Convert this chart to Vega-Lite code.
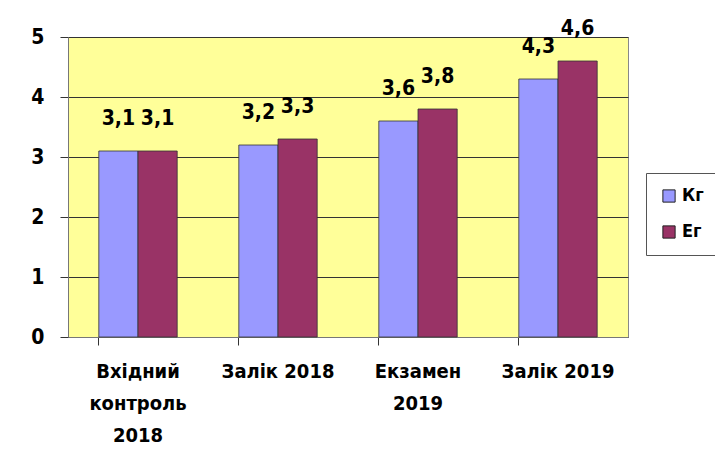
{
  "$schema": "https://vega.github.io/schema/vega-lite/v6.json",
  "autosize": {"type": "none"},
  "width": 560,
  "height": 300,
  "padding": {"left": 68, "top": 37, "right": 87, "bottom": 113},
  "background": "white",
  "data": {"values": [
    {"cat": "Вхідний контроль 2018", "series": "Кг", "value": 3.1},
    {"cat": "Вхідний контроль 2018", "series": "Ег", "value": 3.1},
    {"cat": "Залік 2018", "series": "Кг", "value": 3.2},
    {"cat": "Залік 2018", "series": "Ег", "value": 3.3},
    {"cat": "Екзамен 2019", "series": "Кг", "value": 3.6},
    {"cat": "Екзамен 2019", "series": "Ег", "value": 3.8},
    {"cat": "Залік 2019", "series": "Кг", "value": 4.3},
    {"cat": "Залік 2019", "series": "Ег", "value": 4.6}
  ]},
  "encoding": {
    "x": {"field": "cat", "type": "nominal", "sort": null,
      "scale": {"paddingInner": 0.44, "paddingOuter": 0.22},
      "axis": {"title": null, "labelAngle": 0, "bandPosition": 0, "tickSize": 8, "tickColor": "#333", "domainColor": "#777",
        "labelFont": "DejaVu Sans Condensed, Liberation Sans, sans-serif", "labelFontSize": 20, "labelFontWeight": "bold", "labelColor": "black", "labelPadding": 16, "labelLineHeight": 32,
        "labelExpr": "datum.value == 'Вхідний контроль 2018' ? ['Вхідний','контроль','2018'] : datum.value == 'Екзамен 2019' ? ['Екзамен','2019'] : datum.value"}},
    "xOffset": {"field": "series", "type": "nominal", "sort": ["Кг", "Ег"], "scale": {"paddingInner": 0}},
    "y": {"field": "value", "type": "quantitative",
      "scale": {"domain": [0, 5], "nice": false},
      "axis": {"title": null, "values": [0, 1, 2, 3, 4, 5], "labelOverlap": false, "format": "d", "tickSize": 8, "tickColor": "#333", "domainColor": "#777",
        "labelFont": "DejaVu Sans Condensed, Liberation Sans, sans-serif", "labelFontSize": 21, "labelFontWeight": "bold", "labelColor": "black", "labelPadding": 16,
        "grid": true, "gridColor": "#333", "gridWidth": 1.2}}
  },
  "layer": [
    {"mark": {"type": "bar", "stroke": "#333", "strokeWidth": 0.8},
      "encoding": {
        "color": {"field": "series", "type": "nominal", "sort": ["Кг", "Ег"],
          "scale": {"domain": ["Кг", "Ег"], "range": ["#9999FF", "#993366"]},
          "legend": {"title": null, "orient": "none", "legendX": 578, "legendY": 136,
            "symbolType": "square", "symbolSize": 150, "symbolStrokeColor": "#222", "symbolStrokeWidth": 1,
            "labelFont": "DejaVu Sans Condensed, Liberation Sans, sans-serif", "labelFontSize": 18, "labelFontWeight": "bold", "labelColor": "black",
            "rowPadding": 18, "padding": 14, "strokeColor": "#555", "fillColor": "white"}}
      }},
    {"mark": {"type": "text", "dy": -22, "baseline": "bottom", "font": "DejaVu Sans Condensed, Liberation Sans, sans-serif", "fontSize": 21, "fontWeight": "bold", "color": "black"},
      "encoding": {"text": {"field": "value", "type": "quantitative", "format": ".1f"}}}
  ],
  "config": {
    "locale": {"number": {"decimal": ",", "thousands": " ", "grouping": [3], "currency": ["", ""]}},
    "view": {"fill": "#FFFF99", "stroke": "#888", "strokeWidth": 1}
  }
}
